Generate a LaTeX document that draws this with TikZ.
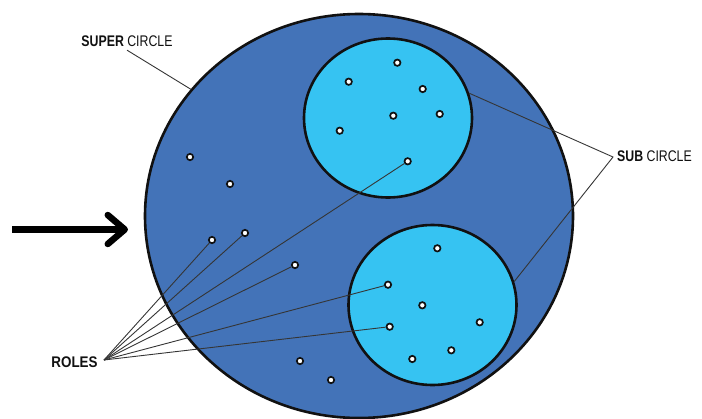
\documentclass[tikz,border=0pt]{standalone}
\usepackage{fontspec}
\usepackage{tikz}
\usetikzlibrary{positioning,arrows.meta,shapes.geometric}
\usepackage{xcolor}
\newfontfamily\calloutfont[FakeStretch=0.8]{Liberation Sans}
\newfontfamily\rolesfont[FakeStretch=0.87]{Liberation Sans}
\definecolor{inkBlack}{HTML}{111111}
\definecolor{superBlue}{HTML}{4373B8}
\definecolor{subCyan}{HTML}{36C3F2}

\tikzset{
  ring/.style={ellipse,draw=inkBlack,line width=2.6pt,inner sep=0pt},
  role/.style={circle,draw=inkBlack,fill=white,line width=1.7pt,inner sep=0pt,minimum size=6.4pt},
  callout/.style={font=\calloutfont\fontsize{15.4}{18}\selectfont,text=inkBlack,inner sep=3pt},
  leader/.style={draw=inkBlack!85,line width=0.9pt},
  bigarrow/.style={line width=6.5pt,-{Straight Barb[length=17pt,width=29pt,line cap=round,line join=round]}}
}

\begin{document}
\begin{tikzpicture}[x=1pt,y=-1pt]
\useasboundingbox (0,0) rectangle (702,418);
\clip (0,0) rectangle (702,418);

% outer ring and the two inner rings
\node[ring,fill=superBlue,minimum width=428pt,minimum height=404pt] (super) at (359,216) {};
\node[ring,fill=subCyan,minimum width=168pt,minimum height=159pt] (subA) at (388,118) {};
\node[ring,fill=subCyan,minimum width=168pt,minimum height=160pt] (subB) at (432.5,305) {};

% role dots
\foreach \n/\px/\py in {a1/397.3/62.7, a2/348.7/81.7, a3/422.7/89, a4/393.3/115.7,
    a5/439.7/114, a6/339.7/130.7, a7/407.7/161.3,
    b1/437.3/248.3, b2/388/284.7, b3/422.3/305.3, b4/389.7/326.7,
    b5/479.7/322.3, b6/451.3/350.3, b7/412.3/359,
    c1/190/157, c2/230/184, c3/212/240, c4/245/233, c5/295/265,
    c6/300/361, c7/331/380}
  \node[role] (\n) at (\px,\py) {};

% labels
\node[callout] (superlbl) at (127,41.5) {{\bfseries SUPER} CIRCLE};
\node[callout,anchor=west] (sublbl) at (614,156) {{\bfseries SUB} CIRCLE};
\node[callout,font=\rolesfont\bfseries\fontsize{15.4}{18}\selectfont] (roles) at (74.5,362.5) {ROLES};
\coordinate (rolesTip) at (104,360);
\coordinate (subTip) at (613,157);

% leaders
\draw[leader] (superlbl.south) -- (super.143);
\draw[leader] (subA.17) -- (subTip) -- (subB.16);
\foreach \d in {c3,c4,c5,a7,b2,b4}
  \draw[leader] (rolesTip) -- (\d);

% pointer on the left
\coordinate (arrowTail) at (12,229.5);
\coordinate (arrowHead) at (128,229.5);
\draw[bigarrow] (arrowTail) -- (arrowHead);
\end{tikzpicture}
\end{document}
